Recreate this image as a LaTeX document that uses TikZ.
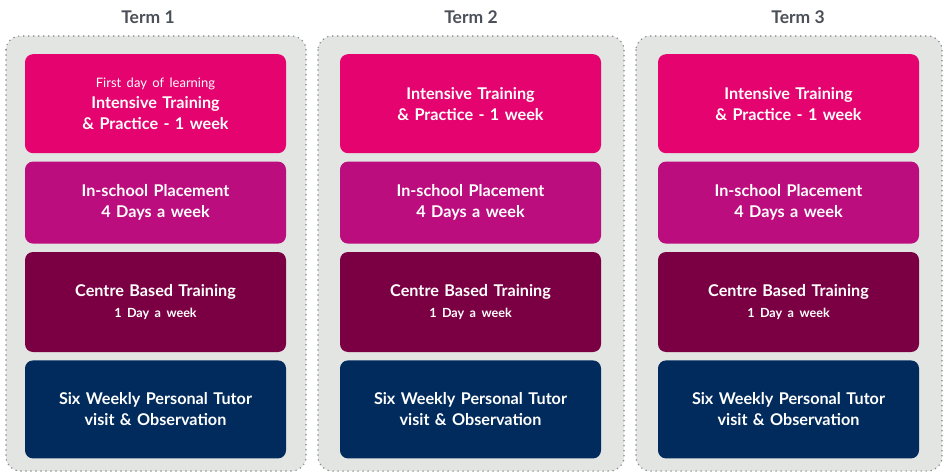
\documentclass[tikz,border=0pt]{standalone}
\usepackage{fontspec}
\setmainfont{Lato}
\usepackage{tikz}
\usetikzlibrary{positioning}

\definecolor{termgrey}{HTML}{4B5058}
\definecolor{panelgrey}{HTML}{E3E5E3}
\definecolor{dotgrey}{HTML}{8A8C8E}
\definecolor{pinkblock}{HTML}{E4036F}
\definecolor{magentablock}{HTML}{BC0D7F}
\definecolor{wineblock}{HTML}{7B0043}
\definecolor{navyblock}{HTML}{002B5C}

\begin{document}
\begin{tikzpicture}[x=1pt, y=-1pt, node distance=8pt,
  term/.style={font=\bfseries\fontsize{17.5}{20}\selectfont, text=termgrey},
  panel/.style={fill=panelgrey, draw=dotgrey, line width=1.7pt, dash pattern=on 0pt off 5pt, line cap=round, rounded corners=14pt},
  block/.style={rectangle, rounded corners=8pt, text=white, text width=261pt, inner sep=0pt, align=center, font=\bfseries\fontsize{16.2}{21}\selectfont}]
  \useasboundingbox (0,0) rectangle (944,473);
  \foreach \n/\pl/\pr/\bx/\tx/\first in {
    1/6/306/155.5/148/{{\mdseries\fontsize{13}{21}\selectfont First day of learning}\\Intensive Training\\\& Practice - 1 week},
    2/318/624/470.5/471/{Intensive Training\\\& Practice - 1 week},
    3/636/942/788.5/798/{Intensive Training\\\& Practice - 1 week}}
  {
    \draw[panel] (\pl,36) rectangle (\pr,471);
    \node[term] (term\n) at (\tx,17) {Term \n};
    \node[block, fill=pinkblock, minimum height=99pt, anchor=north] (intensive\n) at (\bx,54) {\first};
    \node[block, fill=magentablock, minimum height=82pt, below=of intensive\n] (placement\n) {In-school Placement\\4 Days a week};
    \node[block, fill=wineblock, minimum height=100pt, below=of placement\n] (centre\n) {Centre Based Training\\{\fontsize{12.6}{19}\selectfont 1 Day a week}};
    \node[block, fill=navyblock, minimum height=98pt, below=of centre\n] (tutor\n) {Six Weekly Personal Tutor\\visit \& Observation};
  }
\end{tikzpicture}
\end{document}
